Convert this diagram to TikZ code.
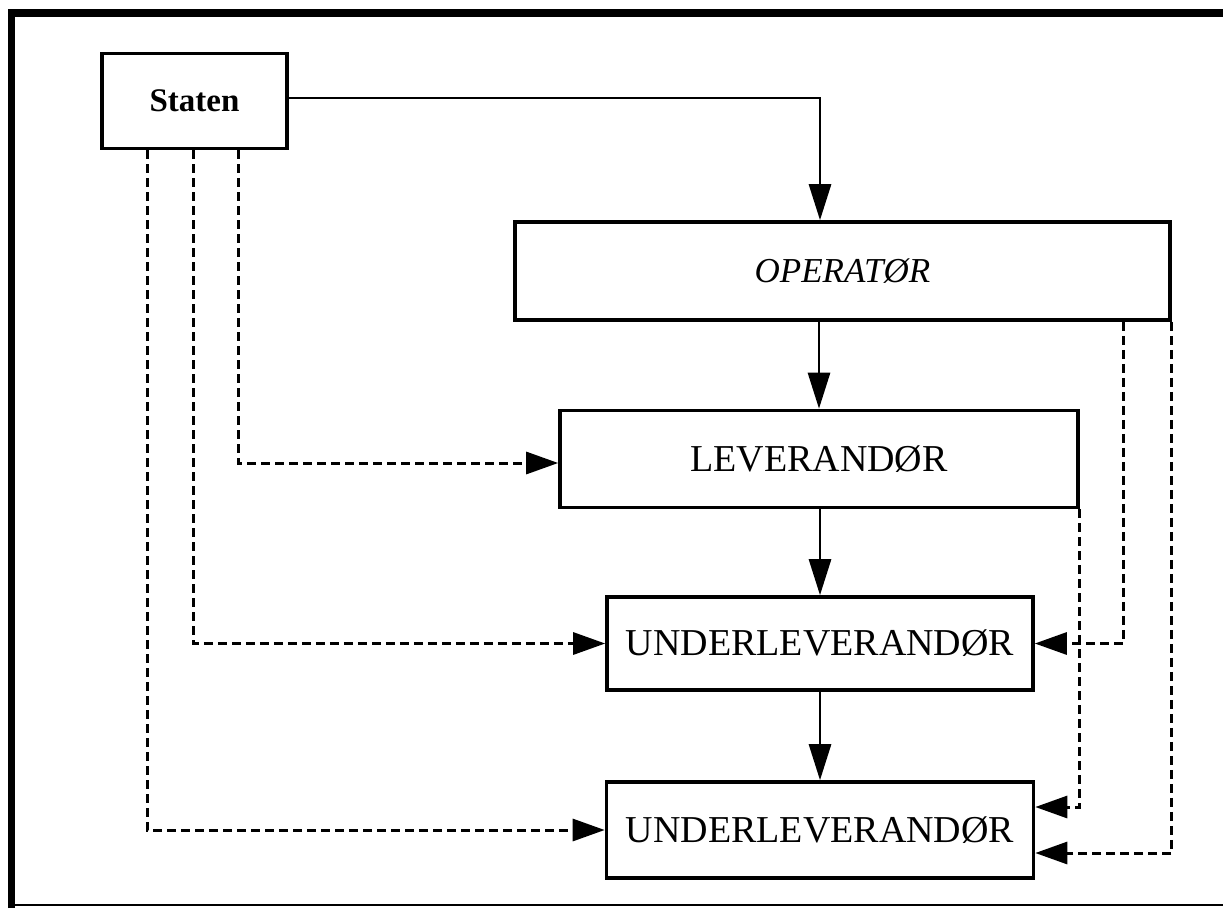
\documentclass[tikz,border=0pt]{standalone}
\usepackage{fontspec}
\setmainfont{Liberation Serif}
\usetikzlibrary{arrows.meta}
\begin{document}
\begin{tikzpicture}[x=1pt,y=-1pt,
  box/.style={draw,line width=3.6pt,inner sep=0pt,anchor=center},
  conn/.style={line width=2.8pt,-{Triangle[length=36pt,width=22pt]}},
  dconn/.style={line width=3pt,dash pattern=on 9pt off 5pt,-{Triangle[length=32pt,width=22pt]}},
  txt/.style={font=\fontsize{38}{40}\selectfont}]
\useasboundingbox (0,0) rectangle (1223,908);
% frame
\draw[line width=7.5pt] (11.5,908) -- (11.5,13) -- (1223,13);
\draw[line width=2.5pt] (8,905) -- (1223,905);
% nodes
\node[box,minimum width=185pt,minimum height=95pt,font=\fontsize{33}{35}\selectfont\bfseries] (St) at (194.5,101) {Staten};
\node[box,minimum width=655pt,minimum height=98pt,font=\fontsize{35}{38}\selectfont\itshape] (Op) at (842.5,271) {OPERATØR};
\node[box,txt,minimum width=518pt,minimum height=97pt] (Lev) at (819,459) {LEVERANDØR};
\node[box,txt,minimum width=426pt,minimum height=93pt] (U1) at (820,643.5) {UNDERLEVERANDØR};
\node[box,txt,minimum width=427pt,minimum height=96pt] (U2) at (820,830) {UNDERLEVERANDØR};
% helper coordinates
\coordinate (c1) at (820,98);
\coordinate (s1) at (147,0);
\coordinate (s2) at (193,0);
\coordinate (s3) at (238,0);
\coordinate (r1) at (1123,0);
% solid arrows
\draw[conn] (St.east |- c1) -- (c1) -- (Op.north -| c1);
\draw[conn] (Op.south -| Lev.north) -- (Lev.north);
\draw[conn] (Lev.south -| U1.north) -- (U1.north);
\draw[conn] (U1.south) -- (U2.north);
% dashed from Staten
\draw[dconn] (St.south -| s3) |- ([yshift=-4pt]Lev.west);
\draw[dconn] (St.south -| s2) |- (U1.west);
\draw[dconn] (St.south -| s1) |- (U2.west);
% dashed on the right
\draw[dconn] (Op.south -| r1) |- (U1.east);
\draw[dconn] (Lev.south east) |- ([yshift=23pt]U2.east);
\draw[dconn] (Op.south east) |- ([yshift=-23pt]U2.east);
\end{tikzpicture}
\end{document}
